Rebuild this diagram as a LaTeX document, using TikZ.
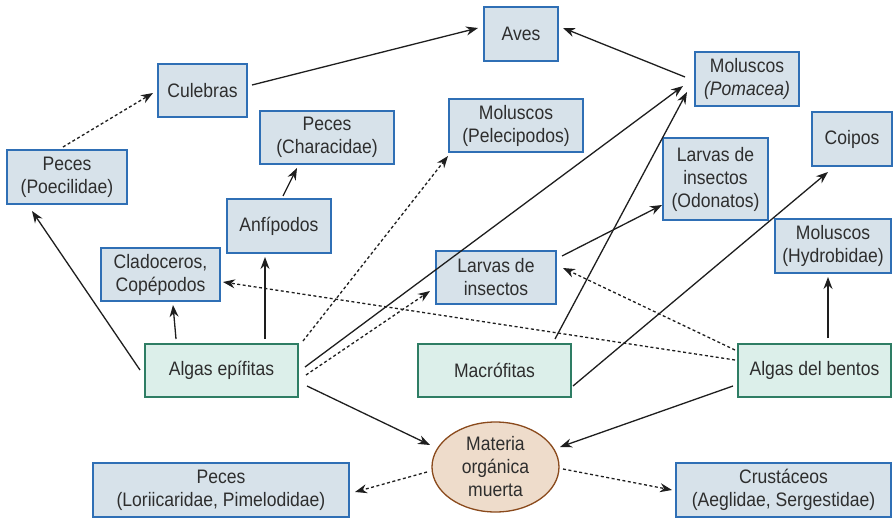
\documentclass[tikz,border=0pt]{standalone}
\usepackage{fontspec}
\setmainfont[FakeStretch=0.9]{Liberation Sans}
\usetikzlibrary{arrows.meta,shapes.geometric}
\definecolor{bluefill}{HTML}{D7E2EA}
\definecolor{blueline}{HTML}{2F6FB5}
\definecolor{greenfill}{HTML}{DCEFEA}
\definecolor{greenline}{HTML}{2E7D64}
\definecolor{orgfill}{HTML}{EEDCCB}
\definecolor{orgline}{HTML}{8A4A1C}
\definecolor{txt}{HTML}{2E2E2E}
\definecolor{edgecol}{HTML}{1E1E1E}
\begin{document}
\begin{tikzpicture}[x=1pt,y=-1pt,
 every node/.style={font=\fontsize{19.5}{23}\selectfont, text=txt, align=center, inner sep=0pt},
 bluebox/.style={rectangle, draw=blueline, fill=bluefill, line width=1.4pt},
 greenbox/.style={rectangle, draw=greenline, fill=greenfill, line width=1.4pt},
 orgbox/.style={ellipse, draw=orgline, fill=orgfill, line width=1.3pt},
 conn/.style={draw=edgecol, line width=1.3pt, -{Stealth[length=12pt,width=9pt]}},
 dotconn/.style={conn, dash pattern=on 3pt off 2.5pt}
]
\useasboundingbox (0,0) rectangle (894,519);
% nodes
\node[bluebox, minimum width=74pt, minimum height=54pt] (aves) at (521,34) {Aves};
\node[bluebox, minimum width=89pt, minimum height=53pt] (culebras) at (202.5,90.5) {Culebras};
\node[bluebox, minimum width=120pt, minimum height=54pt] (poec) at (67,177) {Peces\\(Poecilidae)};
\node[bluebox, minimum width=134pt, minimum height=53pt] (charac) at (327,137.5) {Peces\\(Characidae)};
\node[bluebox, minimum width=104pt, minimum height=54pt] (anf) at (279,226) {Anfípodos};
\node[bluebox, minimum width=119pt, minimum height=53pt] (clado) at (160.5,274.5) {Cladoceros,\\Copépodos};
\node[greenbox, minimum width=153pt, minimum height=53pt] (algasep) at (221.5,370.5) {Algas epífitas};
\node[bluebox, minimum width=134pt, minimum height=53pt] (pelec) at (516,125.5) {Moluscos\\(Pelecipodos)};
\node[bluebox, minimum width=104pt, minimum height=54pt] (pomacea) at (747,79) {Moluscos\\\textit{(Pomacea)}};
\node[bluebox, minimum width=105pt, minimum height=82pt] (odon) at (715.5,179) {Larvas de\\insectos\\(Odonatos)};
\node[bluebox, minimum width=80pt, minimum height=54pt] (coipos) at (852,139) {Coipos};
\node[bluebox, minimum width=116pt, minimum height=54pt] (hydro) at (833,246) {Moluscos\\(Hydrobidae)};
\node[bluebox, minimum width=120pt, minimum height=53pt] (larvas) at (496,277.5) {Larvas de\\insectos};
\node[greenbox, minimum width=153pt, minimum height=53pt] (macro) at (494.5,370.5) {Macrófitas};
\node[greenbox, minimum width=153pt, minimum height=53pt] (bentos) at (814.5,370.5) {Algas del bentos};
\node[orgbox, minimum width=127pt, minimum height=90pt] (materia) at (495.5,467) {Materia\\orgánica\\muerta};
\node[bluebox, minimum width=256pt, minimum height=54pt] (lori) at (221,490) {Peces\\(Loriicaridae, Pimelodidae)};
\node[bluebox, minimum width=215pt, minimum height=54pt] (crus) at (783.5,490) {Crustáceos\\(Aeglidae, Sergestidae)};
% connectors
\draw[conn] ([shift={(-81.5,-0.5)}]algasep.center) -- ([shift={(-35,34)}]poec.center);
\draw[dotconn] ([shift={(-4,-30)}]poec.center) -- ([shift={(-49.5,2.5)}]culebras.center);
\draw[conn] ([shift={(49.5,-5.5)}]culebras.center) -- ([shift={(-43,-6)}]aves.center);
\draw[conn] ([shift={(-62,-2)}]pomacea.center) -- ([shift={(42,-6)}]aves.center);
\draw[conn] ([shift={(4,-30)}]anf.center) -- ([shift={(-30,30.5)}]charac.center);
\draw[conn] ([shift={(43.5,-31.5)}]algasep.center) -- ([shift={(-14,31)}]anf.center);
\draw[conn] ([shift={(-45.5,-31.5)}]algasep.center) -- ([shift={(12.5,30.5)}]clado.center);
\draw[dotconn] ([shift={(81.5,-29.5)}]algasep.center) -- ([shift={(-68,30.5)}]pelec.center);
\draw[conn] ([shift={(83.5,-3.5)}]algasep.center) -- ([shift={(-64,7)}]pomacea.center);
\draw[dotconn] ([shift={(84.5,4.5)}]algasep.center) -- ([shift={(-66,13.5)}]larvas.center);
\draw[conn] ([shift={(85.5,15.5)}]algasep.center) -- ([shift={(-65.5,-22)}]materia.center);
\draw[conn] ([shift={(66,-21.5)}]larvas.center) -- ([shift={(-53.5,26)}]odon.center);
\draw[conn] ([shift={(60.5,-31.5)}]macro.center) -- ([shift={(-60,13)}]pomacea.center);
\draw[conn] ([shift={(78.5,15.5)}]macro.center) -- ([shift={(-24,33)}]coipos.center);
\draw[dotconn] ([shift={(-79.5,-10.5)}]bentos.center) -- ([shift={(62.5,7.5)}]clado.center);
\draw[dotconn] ([shift={(-79.5,-20.5)}]bentos.center) -- ([shift={(67,-9.5)}]larvas.center);
\draw[conn] ([shift={(13.5,-32.5)}]bentos.center) -- ([shift={(-5,31)}]hydro.center);
\draw[conn] ([shift={(-81.5,15.5)}]bentos.center) -- ([shift={(64.5,-20)}]materia.center);
\draw[dotconn] ([shift={(-68.5,5)}]materia.center) -- ([shift={(134,2)}]lori.center);
\draw[dotconn] ([shift={(67.5,2)}]materia.center) -- ([shift={(-111.5,0)}]crus.center);
\end{tikzpicture}
\end{document}
